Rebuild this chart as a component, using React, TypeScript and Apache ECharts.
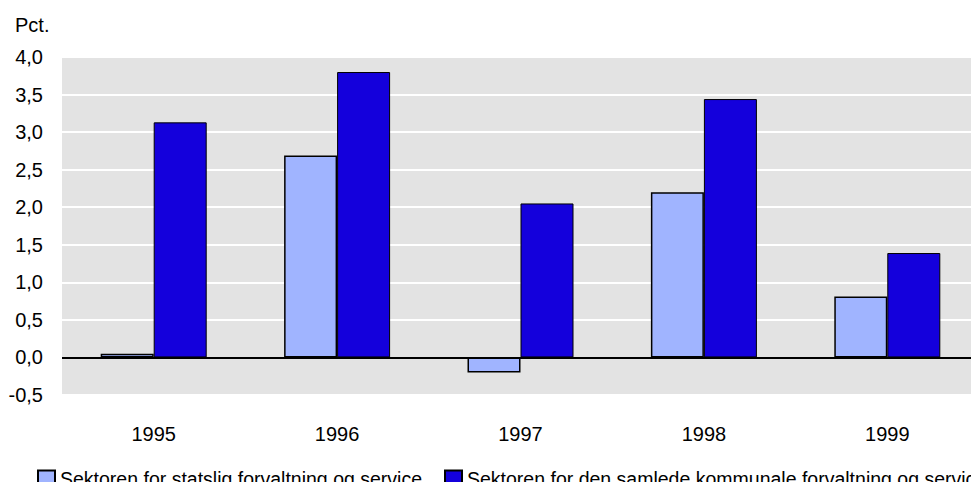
import React, { useEffect, useRef } from "react";
import * as echarts from "echarts";

const categories = ["1995", "1996", "1997", "1998", "1999"];
const statslig = [0.05, 2.69, -0.2, 2.2, 0.81];
const kommunal = [3.13, 3.8, 2.05, 3.44, 1.39];
const seriesNames = [
  "Sektoren for statslig forvaltning og service",
  "Sektoren for den samlede kommunale forvaltning og service",
];

export default function App() {
  const ref = useRef<HTMLDivElement>(null);
  useEffect(() => {
    if (!ref.current) return;
    const chart = echarts.init(ref.current, null, { renderer: "svg" });
    const font = "'Liberation Sans', Arial, sans-serif";
    chart.setOption({
      animation: false,
      textStyle: { fontFamily: font },
      grid: {
        left: 62,
        right: 0,
        top: 57,
        bottom: 95,
        show: true,
        backgroundColor: "#E3E3E3",
        borderWidth: 0,
      },
      graphic: [
        {
          type: "text",
          left: 15,
          top: 15,
          style: { text: "Pct.", fontSize: 20, fill: "#000", fontFamily: font },
        },
      ],
      legend: {
        left: 37,
        top: 469,
        width: 1200,
        padding: 0,
        itemWidth: 17,
        itemHeight: 17,
        itemGap: 22,
        icon: "rect",
        textStyle: { fontSize: 19.5, color: "#000", fontFamily: font },
        data: seriesNames,
      },
      xAxis: {
        type: "category",
        data: categories,
        axisLine: { show: false },
        axisTick: { show: false },
        axisLabel: { fontSize: 20, color: "#000", margin: 29, fontFamily: font },
      },
      yAxis: {
        type: "value",
        min: -0.5,
        max: 4,
        interval: 0.5,
        axisLine: { show: false },
        axisTick: { show: false },
        splitLine: { show: true, lineStyle: { color: "#FFFFFF", width: 2 } },
        axisLabel: {
          fontSize: 20,
          color: "#000",
          margin: 19,
          fontFamily: font,
          formatter: (v: number) => v.toFixed(1).replace(".", ","),
        },
      },
      series: [
        {
          name: seriesNames[0],
          type: "bar",
          data: statslig,
          barWidth: 53,
          barGap: "0%",
          itemStyle: { color: "#A0B4FF", borderColor: "#000", borderWidth: 1.5 },
          markLine: {
            silent: true,
            symbol: "none",
            label: { show: false },
            lineStyle: { color: "#000", width: 2, type: "solid" },
            data: [{ yAxis: 0 }],
            z: 10,
          },
        },
        {
          name: seriesNames[1],
          type: "bar",
          data: kommunal,
          barWidth: 53,
          barGap: "0%",
          itemStyle: { color: "#1400DC", borderColor: "#000", borderWidth: 1 },
        },
      ],
    });
    return () => chart.dispose();
  }, []);
  return <div ref={ref} style={{ width: 979, height: 490, margin: -8 }} />;
}
